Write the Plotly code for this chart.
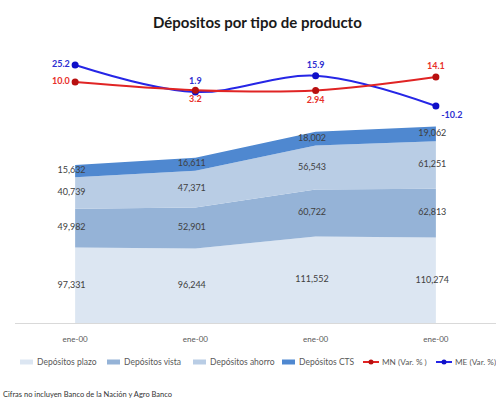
import plotly.graph_objects as go

# --- data -------------------------------------------------------------
categories = ["ene-00", "ene-00", "ene-00", "ene-00"]
plazo = [97331, 96244, 111552, 110274]
vista = [49982, 52901, 60722, 62813]
ahorro = [40739, 47371, 56543, 61251]
cts = [15632, 16611, 18002, 19062]
mn_var = [10.0, 3.2, 2.94, 14.1]
me_var = [25.2, 1.9, 15.9, -10.2]
mn_labels = ["10.0", "3.2", "2.94", "14.1"]
me_labels = ["25.2", "1.9", "15.9", "-10.2"]
area_names = ["Depósitos plazo", "Depósitos vista", "Depósitos ahorro", "Depósitos CTS"]
line_names = ["MN (Var. % )", "ME (Var. %)"]

# --- styling ----------------------------------------------------------
W, H = 496, 402
ML, MR, MT, MB = 15, 0, 0, 79
PW, PH = W - ML - MR, H - MT - MB
FONT = "Lato"
area_colors = ["#dce6f2", "#95b3d7", "#b9cde5", "#4f88d0"]
mn_line, mn_mark, mn_text = "#e02424", "#b81010", "#e8302a"
me_line, me_mark, me_text = "#2626e6", "#1010c8", "#2e2ed0"
label_color = "#404040"

x = list(range(len(categories)))


def px_x(p):
    return (p - ML) / PW


def px_y(p):
    return (H - MB - p) / PH


fig = go.Figure()

# stacked areas
series = [plazo, vista, ahorro, cts]
for name, vals, col in zip(area_names, series, area_colors):
    fig.add_trace(go.Scatter(
        x=x, y=vals, name=name, stackgroup="dep", mode="lines",
        line=dict(width=0, color=col), fillcolor=col,
        hoverinfo="skip", showlegend=False,
    ))

# value labels placed at the middle of each band
base = [0] * len(x)
for vals in series:
    mids = [b + v / 2 for b, v in zip(base, vals)]
    fig.add_trace(go.Scatter(
        x=[xi - 0.03 for xi in x], y=mids, mode="text",
        text=[f"{v:,}" for v in vals],
        textfont=dict(family=FONT, size=9, color=label_color),
        showlegend=False, hoverinfo="skip",
    ))
    base = [b + v for b, v in zip(base, vals)]

# variation lines
fig.add_trace(go.Scatter(
    x=x, y=mn_var, name=line_names[0], yaxis="y3",
    mode="lines+markers+text", line=dict(color=mn_line, width=2, shape="spline"),
    marker=dict(color=mn_mark, size=7),
    text=mn_labels,
    textposition=["middle left", "bottom center", "bottom center", "top center"],
    textfont=dict(family=FONT, size=9, color=mn_text, weight="bold"),
    showlegend=False,
))
fig.add_trace(go.Scatter(
    x=x, y=me_var, name=line_names[1], yaxis="y2",
    mode="lines+markers+text", line=dict(color=me_line, width=2, shape="spline"),
    marker=dict(color=me_mark, size=7),
    text=me_labels,
    textposition=["middle left", "top center", "top center", "bottom right"],
    textfont=dict(family=FONT, size=9, color=me_text, weight="bold"),
    showlegend=False,
))

# axes scaling
dom_split = 0.62
area_units_per_px = 1290
area_top = dom_split * PH * area_units_per_px
upper_px = (1 - dom_split) * PH
me_scale, me_ref, me_ref_px = 1.158, 25.2, 65
mn_scale, mn_ref, mn_ref_px = 1.2, 10.0, 82
me_range = [me_ref - (upper_px - me_ref_px) / me_scale, me_ref + me_ref_px / me_scale]
mn_range = [mn_ref - (upper_px - mn_ref_px) / mn_scale, mn_ref + mn_ref_px / mn_scale]

annotations = [
    dict(text="<b>Dépositos por tipo de producto</b>", x=px_x(257), y=px_y(22),
         xref="paper", yref="paper", showarrow=False, xanchor="center", yanchor="middle",
         font=dict(family=FONT, size=15, color="#1a1a1a")),
    dict(text="Cifras no incluyen Banco de la Nación y Agro Banco", x=px_x(1), y=px_y(394),
         xref="paper", yref="paper", showarrow=False, xanchor="left", yanchor="middle",
         font=dict(family=FONT, size=7.5, color="#333333")),
]
shapes = []

# legend drawn by hand along the bottom
leg_y = 362
area_leg_x = [20, 107, 193, 282]
for name, col, lx in zip(area_names, area_colors, area_leg_x):
    shapes.append(dict(type="rect", xref="paper", yref="paper",
                       x0=px_x(lx), x1=px_x(lx + 13), y0=px_y(leg_y + 2.5), y1=px_y(leg_y - 2.5),
                       fillcolor=col, line=dict(width=0)))
    annotations.append(dict(text=name, x=px_x(lx + 15), y=px_y(leg_y), xref="paper", yref="paper",
                            xanchor="left", yanchor="middle", showarrow=False,
                            font=dict(family=FONT, size=8.5, color="#595959")))
line_leg_x = [363, 436]
for name, lc, mc, lx in zip(line_names, [mn_line, me_line], [mn_mark, me_mark], line_leg_x):
    shapes.append(dict(type="line", xref="paper", yref="paper",
                       x0=px_x(lx), x1=px_x(lx + 16), y0=px_y(leg_y), y1=px_y(leg_y),
                       line=dict(color=lc, width=2)))
    shapes.append(dict(type="circle", xref="paper", yref="paper",
                       x0=px_x(lx + 5.5), x1=px_x(lx + 10.5), y0=px_y(leg_y + 2.5), y1=px_y(leg_y - 2.5),
                       fillcolor=mc, line=dict(width=0)))
    annotations.append(dict(text=name, x=px_x(lx + 16.5), y=px_y(leg_y), xref="paper", yref="paper",
                            xanchor="left", yanchor="middle", showarrow=False,
                            font=dict(family=FONT, size=8.2, color="#595959")))

fig.update_layout(
    width=W, height=H,
    margin=dict(l=ML, r=MR, t=MT, b=MB, pad=0),
    paper_bgcolor="white", plot_bgcolor="white",
    font=dict(family=FONT),
    xaxis=dict(tickmode="array", tickvals=x, ticktext=categories, range=[-0.5, 3.5],
               showgrid=False, zeroline=False, showline=True, linecolor="#d9d9d9", linewidth=1,
               ticks="", ticklabelstandoff=8,
               tickfont=dict(family=FONT, size=8, color="#595959")),
    yaxis=dict(domain=[0, dom_split], range=[0, area_top], visible=False, showgrid=False),
    yaxis2=dict(domain=[dom_split, 1], range=me_range, visible=False, showgrid=False),
    yaxis3=dict(overlaying="y2", range=mn_range, visible=False, showgrid=False),
    showlegend=False,
    annotations=annotations, shapes=shapes,
)

fig.write_html("out.html")
